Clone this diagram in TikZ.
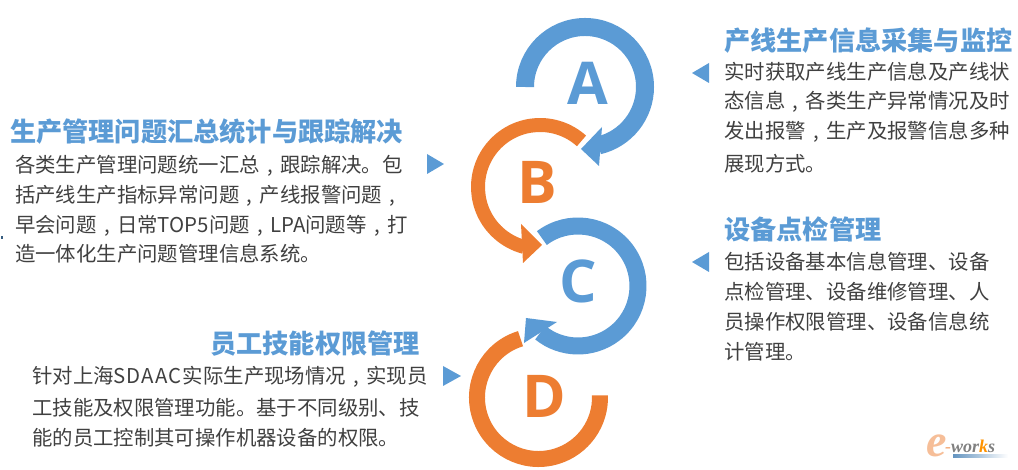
\documentclass[tikz,border=0pt]{standalone}
\usepackage{fontspec}
\setmainfont{Noto Sans CJK SC}
\newfontfamily\letterfont{Open Sans}
\newfontfamily\logoe{Liberation Serif}
\definecolor{ringblue}{HTML}{5B9BD5}
\definecolor{ringorange}{HTML}{ED7D31}
\definecolor{bodygray}{HTML}{404040}
\newcommand{\cnm}{\makebox[1em][c]{,}}
\tikzset{
  titletext/.style={anchor=west,inner sep=0pt,text=ringblue,font=\fontsize{26.2}{28}\selectfont\bfseries},
  bodytext/.style={anchor=west,inner sep=0pt,text=bodygray,font=\fontsize{20.4}{24}\selectfont},
  letterA/.style={inner sep=0pt,anchor=base,font=\fontsize{59}{60}\letterfont\bfseries\selectfont},
  bluering/.style={draw=ringblue,line cap=butt},
  orangering/.style={draw=ringorange,line cap=butt},
  marker/.style={fill=ringblue,draw=none},
}
\begin{document}
\begin{tikzpicture}[x=1pt,y=1pt]
\useasboundingbox (0,0) rectangle (1018,470);
% rings
\draw[bluering,line width=18pt] (585,383) ++(180:60) arc (180:-77:60);
\fill[ringblue] (602,343) -- (581,321) -- (599,304) -- cycle;
\draw[orangering,line width=14pt] (540,283) ++(48:62) arc (48:255:62);
\fill[ringorange] (521,246) -- (542,225) -- (523,207) -- cycle;
\draw[bluering,line width=17pt] (578,184) ++(127:60) arc (127:-129:60);
\fill[ringblue] (557,148) -- (526,152) -- (524,127) -- cycle;
\draw[orangering,line width=16pt] (538.5,72.5) ++(107:61.5) arc (107:362:61.5);
% letters
\node[letterA,text=ringblue] (la) at (588,365) {A};
\node[letterA,text=ringorange] (lb) at (537,266) {B};
\node[letterA,text=ringblue] (lc) at (578,167) {C};
\node[letterA,text=ringorange] (ld) at (544,52) {D};
% markers
\fill[marker] (692,397) -- (709,407) -- (709,387) -- cycle;
\fill[marker] (692,208) -- (709,218) -- (709,198) -- cycle;
\fill[marker] (444,306) -- (427,316) -- (427,296) -- cycle;
\fill[marker] (461,94) -- (443,104) -- (443,84) -- cycle;
% text top right
\node[titletext] (t1) at (724,429.5) {产线生产信息采集与监控};
\node[bodytext] (b11) at (724,398) {实时获取产线生产信息及产线状};
\node[bodytext] (b12) at (724,368) {态信息\cnm 各类生产异常情况及时};
\node[bodytext] (b13) at (724,338) {发出报警\cnm 生产及报警信息多种};
\node[bodytext] (b14) at (724,306) {展现方式。};
% text right middle
\node[titletext] (t2) at (724,241) {设备点检管理};
\node[bodytext] (b21) at (724,208) {包括设备基本信息管理、设备};
\node[bodytext] (b22) at (724,178) {点检管理、设备维修管理、人};
\node[bodytext] (b23) at (724,148) {员操作权限管理、设备信息统};
\node[bodytext] (b24) at (724,118) {计管理。};
% text left top
\node[titletext] (t3) at (10,338.5) {生产管理问题汇总统计与跟踪解决};
\node[bodytext] (b31) at (15,304) {各类生产管理问题统一汇总\cnm 跟踪解决。包};
\node[bodytext] (b32) at (15,274) {括产线生产指标异常问题\cnm 产线报警问题\cnm};
\node[bodytext] (b33) at (15,244) {早会问题\cnm 日常TOP5问题\cnm LPA问题等\cnm 打};
\node[bodytext] (b34) at (15,216) {造一体化生产问题管理信息系统。};
% text left bottom
\node[titletext] (t4) at (210,126.5) {员工技能权限管理};
\node[bodytext] (b41) at (32,93) {针对上海S\kern1pt D\kern1pt A\kern1pt A\kern1pt C\kern1pt 实际生产现场情况\cnm 实现员};
\node[bodytext] (b42) at (32,62) {工技能及权限管理功能。基于不同级别、技};
\node[bodytext] (b43) at (32,32) {能的员工控制其可操作机器设备的权限。};
% stray speck at the left edge
\fill[ringblue!60!black] (1,231) rectangle (2.6,234);
% logo
\node[inner sep=0pt,text=ringorange!50,font=\fontsize{46}{46}\logoe\itshape\bfseries\selectfont] (loge) at (937,24) {e};
\node[inner sep=0pt,anchor=base west,text=black!50,font=\fontsize{18}{18}\logoe\itshape\bfseries\selectfont] (logow) at (945,17) {\textcolor{ringorange!60}{-}wor\textcolor{orange!85!yellow}{k}s};
\fill[left color=ringblue!75!gray,right color=white,draw=none] (953,15) rectangle (1008,12);
\end{tikzpicture}
\end{document}
